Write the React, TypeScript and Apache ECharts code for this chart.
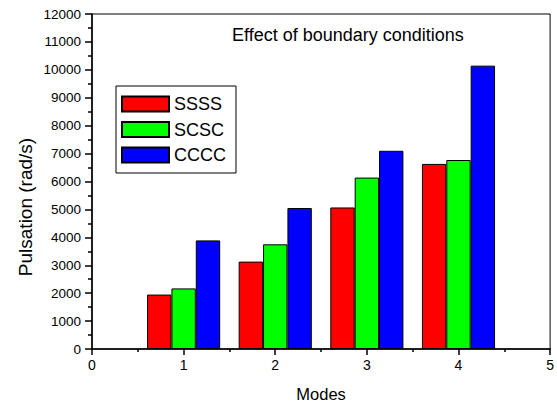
import React, { useEffect, useRef } from "react";
import * as echarts from "echarts";

const modes = [1, 2, 3, 4];
const seriesNames = ["SSSS", "SCSC", "CCCC"];
const ssss = [1950, 3130, 5070, 6630];
const scsc = [2170, 3750, 6140, 6770];
const cccc = [3890, 5050, 7100, 10150];
const colors = ["#ff0000", "#00ff00", "#0000ff"];
const titleText = "Effect of boundary conditions";
const xName = "Modes";
const yName = "Pulsation (rad/s)";

const FONT = "Arial, 'Liberation Sans', sans-serif";

export default function App() {
  const ref = useRef<HTMLDivElement>(null);
  useEffect(() => {
    document.body.style.margin = "0";
    document.body.style.overflow = "hidden";
    if (!ref.current) return;
    const chart = echarts.init(ref.current, undefined, { renderer: "svg" });
    const values = [ssss, scsc, cccc];
    chart.setOption({
      animation: false,
      backgroundColor: "#ffffff",
      textStyle: { fontFamily: FONT },
      title: {
        text: titleText,
        left: 232,
        top: 26,
        padding: 0,
        textStyle: { fontSize: 18, fontWeight: "normal", color: "#000", fontFamily: FONT },
      },
      graphic: [
        {
          type: "text",
          x: 25,
          y: 207,
          rotation: Math.PI / 2,
          style: {
            text: yName,
            fill: "#000",
            font: "19px " + FONT,
            textAlign: "center",
            textVerticalAlign: "middle",
          },
        },
      ],
      legend: {
        orient: "vertical",
        left: 116,
        top: 86,
        padding: [9, 10, 9, 5],
        itemGap: 7.5,
        itemWidth: 47,
        itemHeight: 15,
        borderColor: "#000",
        borderWidth: 1,
        icon: "rect",
        textStyle: { fontSize: 18, color: "#000", fontFamily: FONT },
        data: seriesNames,
      },
      grid: {
        left: 92,
        right: 4,
        top: 14,
        bottom: 54,
        show: true,
        borderColor: "#000",
        borderWidth: 1,
      },
      xAxis: {
        type: "value",
        min: 0,
        max: 5,
        interval: 1,
        name: xName,
        nameLocation: "middle",
        nameGap: 36,
        nameTextStyle: { fontSize: 16.5, color: "#000", fontFamily: FONT },
        axisLine: { show: true, onZero: false, lineStyle: { color: "#000", width: 1.5 } },
        axisTick: { show: true, length: 6, lineStyle: { color: "#000", width: 1.5 } },
        minorTick: { show: true, splitNumber: 2, length: 3, lineStyle: { color: "#000", width: 1.5 } },
        axisLabel: { fontSize: 14, color: "#000", margin: 9, fontFamily: FONT, formatter: (v: number) => String(v) },
        splitLine: { show: false },
      },
      yAxis: {
        type: "value",
        min: 0,
        max: 12000,
        interval: 1000,
        axisLine: { show: true, lineStyle: { color: "#000", width: 1.5 } },
        axisTick: { show: true, length: 7, lineStyle: { color: "#000", width: 1.5 } },
        minorTick: { show: true, splitNumber: 2, length: 4, lineStyle: { color: "#000", width: 1.5 } },
        axisLabel: { fontSize: 13.5, color: "#000", margin: 11, fontFamily: FONT, formatter: (v: number) => String(v) },
        splitLine: { show: false },
      },
      series: seriesNames.map((name, i) => ({
        name,
        type: "bar",
        data: modes.map((m, j) => [m, values[i][j]]),
        barWidth: "26.6%",
        barGap: "0%",
        itemStyle: { color: colors[i], borderColor: "#000", borderWidth: 1 },
      })),
    });
    return () => chart.dispose();
  }, []);
  return <div ref={ref} style={{ width: 557, height: 407 }} />;
}
